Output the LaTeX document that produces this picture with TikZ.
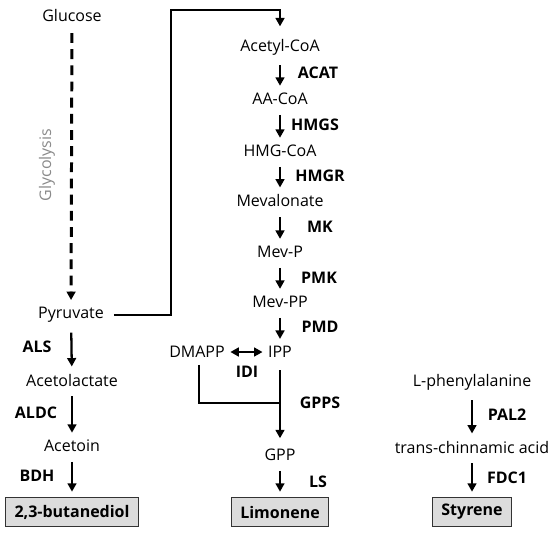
\documentclass[tikz,border=0pt]{standalone}
\usepackage{fontspec}
\setmainfont{Open Sans}
\usepackage{tikz}
\usetikzlibrary{arrows.meta,positioning}
\definecolor{BoxGray}{HTML}{DCDCDC}
\definecolor{LabelGray}{HTML}{8A8A8A}

\begin{document}
\begin{tikzpicture}[
  x=0.02cm, y=-0.02cm,
  font=\fontsize{9.1}{10}\selectfont,
  >={Triangle[length=4.8pt,width=5pt]},
  metab/.style={inner sep=1pt},
  enzyme/.style={font=\fontsize{9.1}{10}\selectfont\bfseries},
  product/.style={
    draw=black!80,
    fill=BoxGray,
    line width=0.6pt,
    minimum height=0.58cm,
    inner xsep=0.18cm,
    font=\fontsize{9.1}{10}\selectfont\bfseries
  },
  flow/.style={->,line width=1.3pt,shorten <=4.5pt,shorten >=3pt},
  link/.style={line width=1.5pt},
  glyco/.style={->,line width=1.7pt,dash pattern=on 5.6pt off 3.6pt,shorten <=5pt,shorten >=3pt}
]
\useasboundingbox (0,0) rectangle (550,537);

% glycolysis and 2,3-butanediol
\node[metab] (glucose) at (72,16) {Glucose};
\node[metab] (pyruvate) at (71,315) {Pyruvate};
\node[metab] (acetolactate) at (72,380) {Acetolactate};
\node[metab] (acetoin) at (72,446) {Acetoin};
\node[product] (butanediol) at (72,512) {2,3-butanediol};
\node[rotate=90,text=LabelGray] (glycolysis) at (47,165) {Glycolysis};

\draw[glyco] (glucose) -- (pyruvate);
\draw[flow] (pyruvate) -- (acetolactate);
\draw[flow] (acetolactate) -- (acetoin);
\draw[flow] (acetoin) -- (butanediol);

\node[enzyme] (als) at (37,347) {ALS};
\node[enzyme] (aldc) at (36,413) {ALDC};
\node[enzyme] (bdh) at (37,476) {BDH};

% mevalonate pathway and limonene
\node[metab] (acetylcoa) at (280,47) {Acetyl-CoA};
\node[metab] (aacoa) at (280,99) {AA-CoA};
\node[metab] (hmgcoa) at (280,151) {HMG-CoA};
\node[metab] (mevalonate) at (280,201) {Mevalonate};
\node[metab] (mevp) at (280,252) {Mev-P};
\node[metab] (mevpp) at (280,302) {Mev-PP};
\node[metab] (ipp) at (280,352) {IPP};
\node[metab] (dmapp) at (197,352) {DMAPP};
\node[metab] (gpp) at (280,455) {GPP};
\node[product] (limonene) at (280,512) {Limonene};
\coordinate (merge) at (280,403);

\draw[link,->,shorten >=6pt] (pyruvate.east) ++(8,0) -| (171,10) -| (acetylcoa.north);
\draw[flow] (acetylcoa) -- (aacoa);
\draw[flow] (aacoa) -- (hmgcoa);
\draw[flow] (hmgcoa) -- (mevalonate);
\draw[flow] (mevalonate) -- (mevp);
\draw[flow] (mevp) -- (mevpp);
\draw[flow] (mevpp) -- (ipp);
\draw[<->,line width=1.2pt,shorten <=2pt,shorten >=2pt] (dmapp.east) -- (ipp.west);
\draw[link] (dmapp.south) ++(2,5) |- (merge);
\draw[->,line width=1.5pt,shorten <=6pt,shorten >=5pt] (ipp) -- (gpp);
\draw[flow] (gpp) -- (limonene);

\node[enzyme] (acat) at (318,73) {ACAT};
\node[enzyme] (hmgs) at (315,125) {HMGS};
\node[enzyme] (hmgr) at (320,176) {HMGR};
\node[enzyme] (mk) at (320,227) {MK};
\node[enzyme] (pmk) at (319,278) {PMK};
\node[enzyme] (pmd) at (320,327) {PMD};
\node[enzyme] (idi) at (247,372) {IDI};
\node[enzyme] (gpps) at (320,403) {GPPS};
\node[enzyme] (ls) at (318,482) {LS};

% styrene
\node[metab] (phe) at (472,382) {L-phenylalanine};
\node[metab] (cinnamic) at (472,447) {trans-chinnamic acid};
\node[product] (styrene) at (472,512) {Styrene};

\draw[flow] (phe) -- (cinnamic);
\draw[flow] (cinnamic) -- (styrene);

\node[enzyme] (pal) at (507,415) {PAL2};
\node[enzyme] (fdc) at (507,478) {FDC1};
\end{tikzpicture}
\end{document}
